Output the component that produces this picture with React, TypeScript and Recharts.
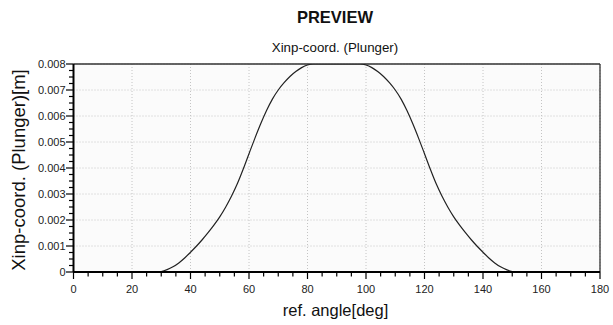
import React from "react";
import {
  LineChart,
  Line,
  XAxis,
  YAxis,
  CartesianGrid,
  ReferenceLine,
} from "recharts";

// ref. angle [deg]
const angles = [
  0, 28, 30, 32, 34, 36, 38, 40, 42, 44, 46, 48, 50, 52, 54, 56, 58, 60, 62, 64,
  66, 68, 70, 72, 74, 76, 78, 80, 82, 98, 100, 102, 104, 106, 108, 110, 112,
  114, 116, 118, 120, 122, 124, 126, 128, 130, 132, 134, 136, 138, 140, 142,
  144, 146, 148, 150, 152, 180,
];

// Xinp-coord. (Plunger) [m]
const xinp = [
  0, 0, 0.00002, 0.00009, 0.0002, 0.00035, 0.00054, 0.00076, 0.00099, 0.00124,
  0.00151, 0.0018, 0.00212, 0.00249, 0.00291, 0.00339, 0.00395, 0.00455,
  0.00514, 0.0057, 0.00621, 0.00665, 0.007, 0.00728, 0.00752, 0.00771,
  0.00786, 0.00796, 0.008, 0.008, 0.00796, 0.00786, 0.00771, 0.00752, 0.00728,
  0.007, 0.00665, 0.00621, 0.0057, 0.00514, 0.00455, 0.00395, 0.00339,
  0.00291, 0.00249, 0.00212, 0.0018, 0.00151, 0.00124, 0.00099, 0.00076,
  0.00054, 0.00035, 0.0002, 0.00009, 0.00002, 0, 0,
];

const xMajorTicks = [0, 20, 40, 60, 80, 100, 120, 140, 160, 180];
const yMajorTicks = [0, 0.001, 0.002, 0.003, 0.004, 0.005, 0.006, 0.007, 0.008];
const xMinorStep = 5;
const yMinorStep = 0.00025;

const data = angles.map((a, i) => ({ angle: a, value: xinp[i] }));

const xAllTicks: number[] = [];
for (let k = 0; k <= 36; k++) xAllTicks.push(k * xMinorStep);
const yAllTicks: number[] = [];
for (let k = 0; k <= 32; k++) yAllTicks.push(Number((k * yMinorStep).toFixed(5)));

const FONT = "'Liberation Sans', Arial, sans-serif";

const isMajorX = (v: number) => xMajorTicks.some((t) => Math.abs(t - v) < 1e-9);
const isMajorY = (v: number) => yMajorTicks.some((t) => Math.abs(t - v) < 1e-9);

const XTick = (props: any) => {
  const { x, y, payload } = props;
  const major = isMajorX(payload.value);
  return (
    <g>
      <line x1={x} x2={x} y1={y} y2={y + (major ? 7 : 4.5)} stroke="#000" strokeWidth={1.2} />
      {major && (
        <text x={x} y={y + 21} textAnchor="middle" fontSize={11} fill="#222" fontFamily={FONT}>
          {payload.value}
        </text>
      )}
    </g>
  );
};

const YTick = (props: any) => {
  const { x, y, payload } = props;
  const major = isMajorY(payload.value);
  return (
    <g>
      <line x1={x} x2={x - (major ? 7.5 : 4.5)} y1={y} y2={y} stroke="#000" strokeWidth={1.2} />
      {major && (
        <text x={x - 8} y={y + 4} textAnchor="end" fontSize={11} fill="#222" fontFamily={FONT}>
          {payload.value === 0 ? "0" : payload.value.toFixed(3)}
        </text>
      )}
    </g>
  );
};

export default function App() {
  return (
    <div style={{ position: "absolute", left: 0, top: 0, width: 613, height: 325, background: "#fff", fontFamily: FONT }}>
      <div style={{ position: "absolute", left: 0, width: 670, top: 8, textAlign: "center", fontWeight: "bold", fontSize: 16.5, color: "#111" }}>
        PREVIEW
      </div>
      <div style={{ position: "absolute", left: 0, width: 670, top: 40, textAlign: "center", fontSize: 13.3, color: "#111" }}>
        Xinp-coord. (Plunger)
      </div>
      <div
        style={{
          position: "absolute",
          left: 19,
          top: 170,
          transform: "translate(-50%, -50%) rotate(-90deg)",
          whiteSpace: "nowrap",
          fontSize: 18.5,
          color: "#111",
        }}
      >
        Xinp-coord. (Plunger)[m]
      </div>
      <div style={{ position: "absolute", left: 0, width: 671, top: 301, textAlign: "center", fontSize: 16.5, color: "#111" }}>
        ref. angle[deg]
      </div>
      <div style={{ position: "absolute", left: 0, top: 0 }}>
        <LineChart width={613} height={325} data={data} margin={{ top: 64, right: 13, bottom: 0, left: 0 }}>
          <CartesianGrid
            fill="#fbfbfb"
            stroke="#c4c4c4"
            strokeDasharray="1 2"
            horizontalValues={yMajorTicks}
            verticalValues={xMajorTicks}
          />
          <XAxis
            dataKey="angle"
            type="number"
            domain={[0, 180]}
            ticks={xAllTicks}
            interval={0}
            tick={<XTick />}
            tickLine={false}
            tickSize={0}
            tickMargin={0}
            height={53}
            axisLine={{ stroke: "#000", strokeWidth: 2 }}
            allowDataOverflow
          />
          <YAxis
            type="number"
            domain={[0, 0.008]}
            ticks={yAllTicks}
            interval={0}
            tick={<YTick />}
            tickLine={false}
            tickSize={0}
            tickMargin={0}
            width={73.5}
            axisLine={{ stroke: "#000", strokeWidth: 2 }}
            allowDataOverflow
          />
          <ReferenceLine y={0.008} stroke="#333" strokeWidth={1.3} />
          <ReferenceLine x={180} stroke="#333" strokeWidth={1.3} />
          <Line
            type="monotone"
            dataKey="value"
            stroke="#222"
            strokeWidth={1.2}
            dot={false}
            isAnimationActive={false}
          />
        </LineChart>
      </div>
    </div>
  );
}
